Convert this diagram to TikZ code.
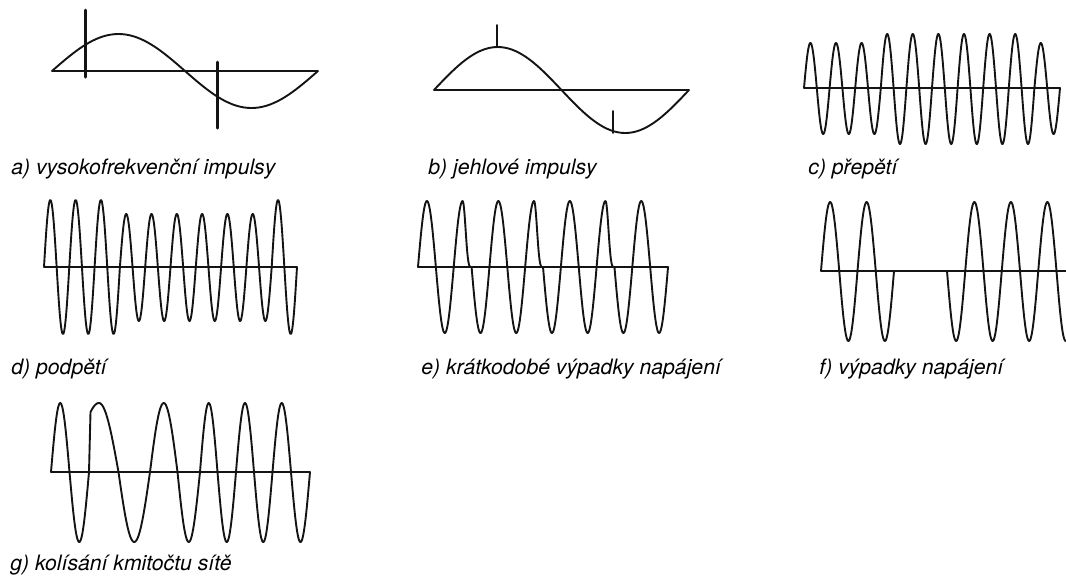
\documentclass[tikz,border=0pt]{standalone}
\usepackage{fontspec}
\setmainfont{TeX Gyre Heros}
\usetikzlibrary{arrows,calc}
\usepackage{tkz-euclide}
\definecolor{WaveClr}{rgb}{0.08,0.08,0.08}

\tikzset{wave/.style={line width=0.95pt,color=WaveClr,line cap=round,line join=round},
  lbl/.style={anchor=base west,inner sep=0pt,font=\fontsize{10.6}{12}\selectfont\itshape}}

\newcommand\halfwave[4]{%
  \draw[wave] plot[domain=0:180,samples=31] ({#1+\x/180*#2},{#3-#4*sin(\x)});}
\newcommand\halfkink[4]{%
  \draw[wave] plot[domain=0:180,samples=41] ({#1+\x/180*#2},{#3-#4*((\x<=90) ? sin(\x) : sin(\x)*sin(\x)*sin(\x)*sin(\x))});}

\begin{document}
\begin{tikzpicture}[x=0.5pt,y=-0.5pt]
\useasboundingbox (0,0) rectangle (1066,575);
\tkzSetUpLine[line width=0.65pt,color=WaveClr]

\tkzDefPoints{52/71/a1,318/71/a2,434/90/b1,689/90/b2,804/88/c1,1060/88/c2,
  44/267/d1,297/267/d2,418/267/e1,668/267/e2,821/271/f1,1066/271/f2,51/472/g1,310/472/g2}
\tkzDefPoints{85/10/s1,85/77/s2,217/62/s3,217/128/s4,497/25/s5,497/47/s6,613/111/s7,613/133/s8}

\tkzDrawSegments(a1,a2 b1,b2 c1,c2 d1,d2 e1,e2 f1,f2 g1,g2)
\tkzDrawSegments[line width=1.5pt](s1,s2 s3,s4)
\tkzDrawSegments[line width=0.8pt](s5,s6 s7,s8)

\draw[wave] plot[domain=0:360,samples=73] ({52+\x/360*266},{71-37*sin(\x)});
\draw[wave] plot[domain=0:360,samples=73] ({434+\x/360*255},{90-43*sin(\x)});

\foreach \a [count=\i from 0] in {45,-46,45,-46,45,-46,54,-56,54,-56,54,-56,54,-56,54,-56,54,-56,45,-46}
  {\halfwave{804+\i*12.8}{12.8}{88}{\a}}

\foreach \a [count=\i from 0] in {67,-67,67,-67,67,-67,53,-54,53,-54,53,-54,53,-54,53,-54,53,-54,67,-67}
  {\halfwave{44+\i*12.65}{12.65}{267}{\a}}

\foreach \a/\k [count=\i from 0] in {66/0,-66/0,66/1,-66/0,66/0,-66/0,66/1,-66/0,66/0,-66/0,66/1,-66/0,66/0,-66/0}
  {\ifnum\k=1 \halfkink{418+\i*17.86}{17.86}{267}{\a}\else \halfwave{418+\i*17.86}{17.86}{267}{\a}\fi}

\foreach \a [count=\i from 0] in {69,-70,69,-70}
  {\halfwave{821+\i*18.25}{18.25}{271}{\a}}
\foreach \a [count=\i from 0] in {-70,69,-70,69,-70,69}
  {\halfwave{947+\i*18.25}{18.25}{271}{\a}}
\draw[wave] plot[domain=0:90,samples=16] ({1056.5+\x/180*18.25},{271+70*sin(\x)});

\foreach \s/\w/\a in {51/18.5/69,69.5/19.5/-70,118.5/31.5/-70,150/27.5/69,177.5/22.5/-70,
  200/17.5/69,217.5/18.5/-70,236/18/69,254/18.5/-70,272.5/18.5/69,291/19/-70}
  {\halfwave{\s}{\w}{472}{\a}}
\draw[wave] (89,472) -- plot[domain=60:180,samples=41]
  ({(\x<=90) ? 90.5+(\x-60)/30*8.5 : 99+(\x-90)/90*19.5},{472-69*sin(\x)});

\node[lbl] (la) at (11,174) {a) vysokofrekvenční impulsy};
\node[lbl] (lb) at (428,174) {b) jehlové impulsy};
\node[lbl] (lc) at (808,174) {c) přepětí};
\node[lbl] (ld) at (11,374) {d) podpětí};
\node[lbl] (le) at (421,374) {e) krátkodobé výpadky napájení};
\node[lbl] (lf) at (819,374) {f) výpadky napájení};
\node[lbl] (lg) at (10,570) {g) kolísání kmitočtu sítě};

\end{tikzpicture}
\end{document}
